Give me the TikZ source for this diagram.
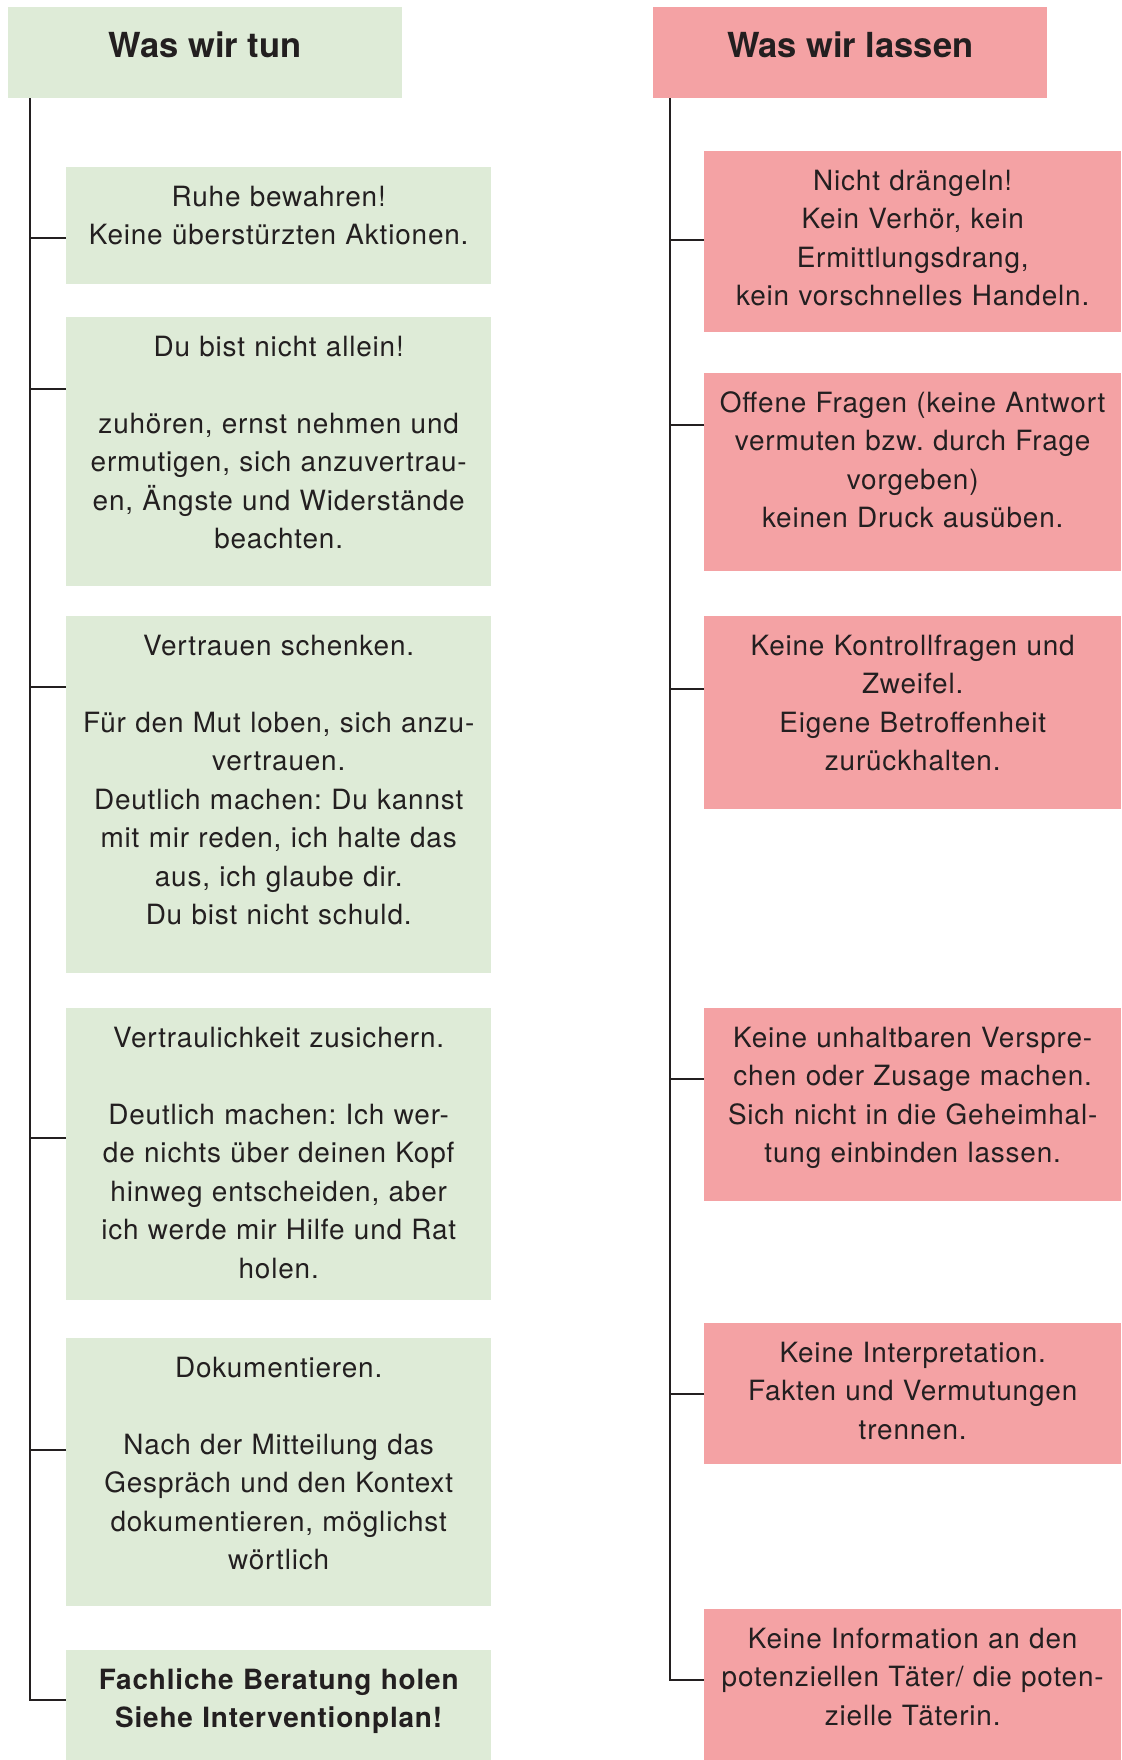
\documentclass[tikz,border=0pt]{standalone}
\usepackage{fontspec}
\newfontfamily\bodyfont[LetterSpace=3]{TeX Gyre Heros}
\newfontfamily\headfont{TeX Gyre Heros}
\definecolor{tungreen}{RGB}{222,235,215}
\definecolor{lassred}{RGB}{244,162,164}
\definecolor{inkgray}{RGB}{35,31,32}
\frenchspacing

\begin{document}
\begin{tikzpicture}[x=1pt,y=-1pt,
  tunbox/.style={fill=tungreen, inner sep=0pt, anchor=north west},
  lassbox/.style={fill=lassred, inner sep=0pt, anchor=north west},
  boxtext/.style={anchor=north, inner sep=0pt, text width=410pt, align=center,
    text=inkgray, font=\bodyfont\fontsize{27.9}{38.5}\selectfont,
    execute at begin node=\strut},
  headtext/.style={anchor=base, inner sep=0pt, text=inkgray,
    font=\headfont\bfseries\fontsize{34.5}{40}\selectfont},
  branch/.style={draw=inkgray, line width=2.4pt}]
% Frame
\useasboundingbox (0,0) rectangle (1121,1760);
%
% Left column: was wir tun
\node [tunbox, minimum width=394pt, minimum height=91pt] (tunhead) at (8,7) {};
\node [headtext] (tunheadtxt) at ([yshift=-51pt]tunhead.north) {Was wir tun};
% Box 1
\node [tunbox, minimum width=425pt, minimum height=117pt] (tun1) at (66,167) {};
\node [boxtext] (tun1txt) at ([yshift=-12pt]tun1.north)
  {Ruhe bewahren!\\Keine überstürzten Aktionen.};
% Box 2
\node [tunbox, minimum width=425pt, minimum height=269pt] (tun2) at (66,317) {};
\node [boxtext] (tun2txt) at ([yshift=-12pt]tun2.north)
  {Du bist nicht allein!\\[38.5pt]zuhören, ernst nehmen und\\ermutigen, sich anzuvertrau-\\en, Ängste und Widerstände\\beachten.};
% Box 3
\node [tunbox, minimum width=425pt, minimum height=357pt] (tun3) at (66,616) {};
\node [boxtext] (tun3txt) at ([yshift=-12pt]tun3.north)
  {Vertrauen schenken.\\[38.5pt]Für den Mut loben, sich anzu-\\vertrauen.\\Deutlich machen: Du kannst\\mit mir reden, ich halte das\\aus, ich glaube dir.\\Du bist nicht schuld.};
% Box 4
\node [tunbox, minimum width=425pt, minimum height=292pt] (tun4) at (66,1008) {};
\node [boxtext] (tun4txt) at ([yshift=-12pt]tun4.north)
  {Vertraulichkeit zusichern.\\[38.5pt]Deutlich machen: Ich wer-\\de nichts über deinen Kopf\\hinweg entscheiden, aber\\ich werde mir Hilfe und Rat\\holen.};
% Box 5
\node [tunbox, minimum width=425pt, minimum height=268pt] (tun5) at (66,1338) {};
\node [boxtext] (tun5txt) at ([yshift=-12pt]tun5.north)
  {Dokumentieren.\\[38.5pt]Nach der Mitteilung das\\Gespräch und den Kontext\\dokumentieren, möglichst\\wörtlich};
% Box 6
\node [tunbox, minimum width=425pt, minimum height=110pt] (tun6) at (66,1650) {};
\node [boxtext, font=\bodyfont\bfseries\fontsize{27.9}{38.5}\selectfont] (tun6txt) at ([yshift=-12pt]tun6.north)
  {Fachliche Beratung holen\\Siehe Interventionplan!};
%
% Right column: was wir lassen
\node [lassbox, minimum width=394pt, minimum height=91pt] (lasshead) at (653,7) {};
\node [headtext] (lassheadtxt) at ([yshift=-51pt]lasshead.north) {Was wir lassen};
% Box 1
\node [lassbox, minimum width=417pt, minimum height=181pt] (lass1) at (704,151) {};
\node [boxtext] (lass1txt) at ([yshift=-12pt]lass1.north)
  {Nicht drängeln!\\Kein Verhör, kein\\Ermittlungsdrang,\\kein vorschnelles Handeln.};
% Box 2
\node [lassbox, minimum width=417pt, minimum height=198pt] (lass2) at (704,373) {};
\node [boxtext] (lass2txt) at ([yshift=-12pt]lass2.north)
  {Offene Fragen (keine Antwort\\vermuten bzw. durch Frage\\vorgeben)\\keinen Druck ausüben.};
% Box 3
\node [lassbox, minimum width=417pt, minimum height=193pt] (lass3) at (704,616) {};
\node [boxtext] (lass3txt) at ([yshift=-12pt]lass3.north)
  {Keine Kontrollfragen und\\Zweifel.\\Eigene Betroffenheit\\zurückhalten.};
% Box 4
\node [lassbox, minimum width=417pt, minimum height=193pt] (lass4) at (704,1008) {};
\node [boxtext] (lass4txt) at ([yshift=-12pt]lass4.north)
  {Keine unhaltbaren Verspre-\\chen oder Zusage machen.\\Sich nicht in die Geheimhal-\\tung einbinden lassen.};
% Box 5
\node [lassbox, minimum width=417pt, minimum height=141pt] (lass5) at (704,1323) {};
\node [boxtext] (lass5txt) at ([yshift=-12pt]lass5.north)
  {Keine Interpretation.\\Fakten und Vermutungen\\trennen.};
% Box 6
\node [lassbox, minimum width=417pt, minimum height=151pt] (lass6) at (704,1609) {};
\node [boxtext] (lass6txt) at ([yshift=-12pt]lass6.north)
  {Keine Information an den\\potenziellen Täter/ die poten-\\zielle Täterin.};
%
% Left trunk and branches
\coordinate (tunroot) at ([xshift=22pt]tunhead.south west);
\draw [branch] (tunroot) |- ([yshift=-50pt]tun6.north west);
\draw [branch] ([yshift=-71pt]tun1.north west) -- ++(-36,0);
\draw [branch] ([yshift=-72pt]tun2.north west) -- ++(-36,0);
\draw [branch] ([yshift=-71pt]tun3.north west) -- ++(-36,0);
\draw [branch] ([yshift=-130pt]tun4.north west) -- ++(-36,0);
\draw [branch] ([yshift=-112pt]tun5.north west) -- ++(-36,0);
% Right trunk and branches
\coordinate (lassroot) at ([xshift=17pt]lasshead.south west);
\draw [branch] (lassroot) |- ([yshift=-71pt]lass6.north west);
\draw [branch] ([yshift=-89pt]lass1.north west) -- ++(-34,0);
\draw [branch] ([yshift=-52pt]lass2.north west) -- ++(-34,0);
\draw [branch] ([yshift=-73pt]lass3.north west) -- ++(-34,0);
\draw [branch] ([yshift=-71pt]lass4.north west) -- ++(-34,0);
\draw [branch] ([yshift=-71pt]lass5.north west) -- ++(-34,0);
\end{tikzpicture}
\end{document}
